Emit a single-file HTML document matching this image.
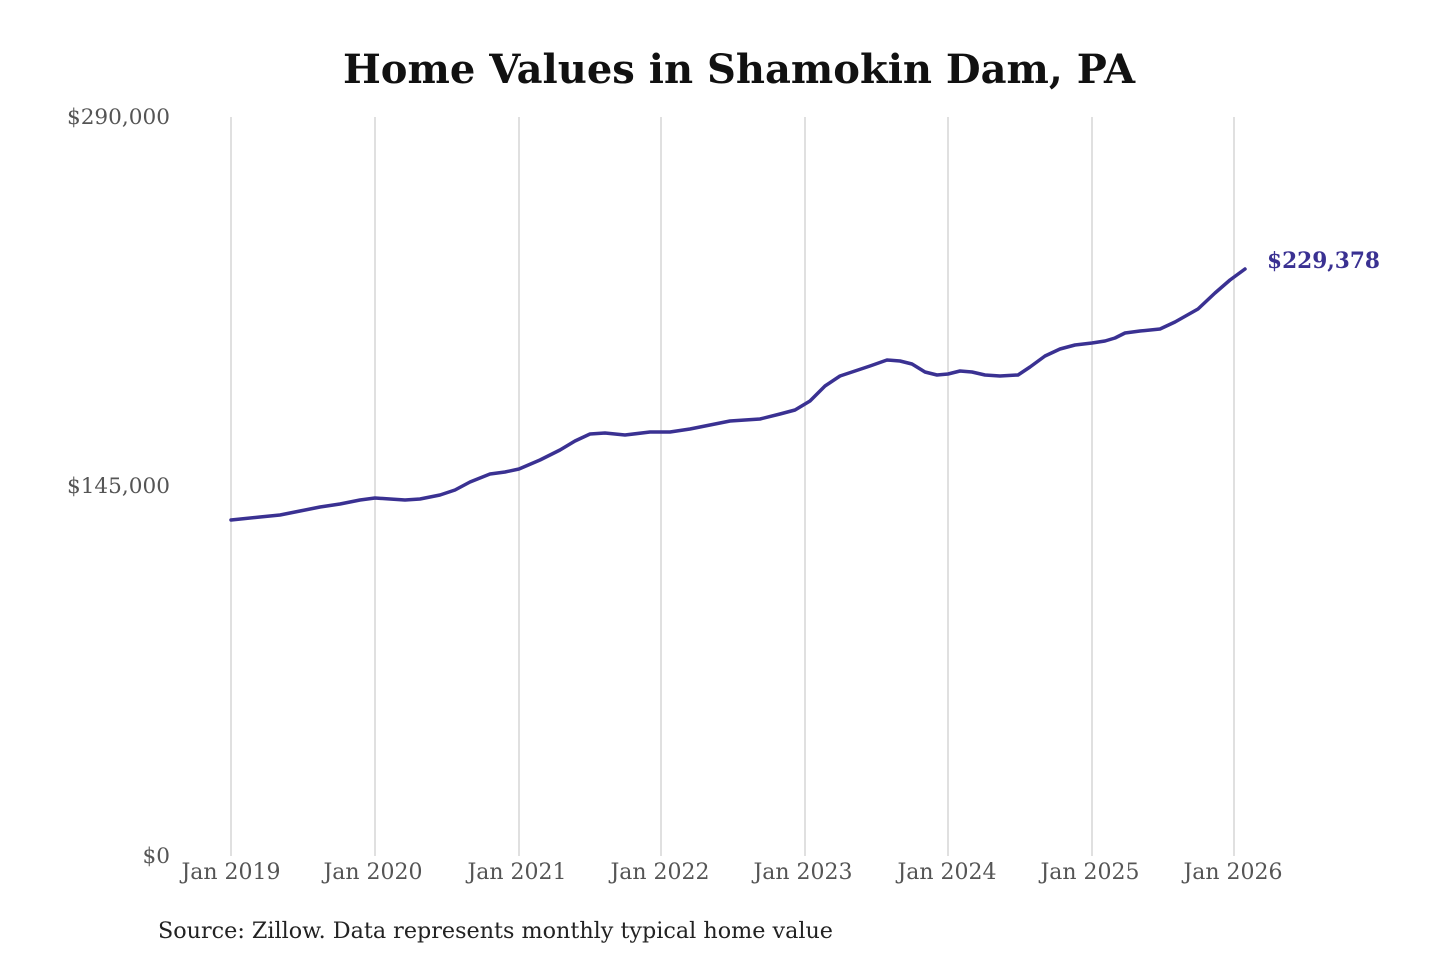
<!DOCTYPE html>
<html><head><meta charset="utf-8"><style>
body{margin:0;background:#fff;}
svg{display:block;font-family:"DejaVu Serif","Liberation Serif",serif;}
</style></head><body>
<svg width="1440" height="960" viewBox="0 0 1440 960" xmlns="http://www.w3.org/2000/svg">
<rect width="1440" height="960" fill="#fff"/>
<text x="739" y="83" text-anchor="middle" font-size="40" font-weight="bold" fill="#111" textLength="792" lengthAdjust="spacingAndGlyphs">Home Values in Shamokin Dam, PA</text>
<g stroke="#cccccc" stroke-width="1.2">
<line x1="231" y1="117" x2="231" y2="856"/><line x1="375" y1="117" x2="375" y2="856"/>
<line x1="519" y1="117" x2="519" y2="856"/><line x1="661" y1="117" x2="661" y2="856"/>
<line x1="805" y1="117" x2="805" y2="856"/><line x1="948" y1="117" x2="948" y2="856"/>
<line x1="1092" y1="117" x2="1092" y2="856"/><line x1="1234" y1="117" x2="1234" y2="856"/>
</g>
<g font-size="21.6" fill="#555" text-anchor="end">
<text x="170" y="124">$290,000</text>
<text x="170" y="493">$145,000</text>
<text x="170" y="863">$0</text>
</g>
<g font-size="22" fill="#555" text-anchor="middle">
<text x="231" y="879">Jan 2019</text><text x="373" y="879">Jan 2020</text>
<text x="517" y="879">Jan 2021</text><text x="660" y="879">Jan 2022</text>
<text x="803" y="879">Jan 2023</text><text x="947" y="879">Jan 2024</text>
<text x="1090" y="879">Jan 2025</text><text x="1233" y="879">Jan 2026</text>
</g>
<polyline fill="none" stroke="#3a3192" stroke-width="3.5" stroke-linejoin="round" stroke-linecap="round" points="231,520 260,517 280,515 300,511 320,507 340,504 360,500 375,498 390,499 405,500 420,499 440,495 455,490 470,482 490,474 505,472 519,469 540,460 560,450 575,441 590,434 605,433 625,435 650,432 670,432 690,429 710,425 730,421 745,420 760,419 780,414 795,410 810,401 825,386 840,376 855,371 870,366 887,360 900,361 912,364 925,372 937,375 948,374 960,371 972,372 985,375 1000,376 1018,375 1030,367 1045,356 1060,349 1075,345 1092,343 1105,341 1115,338 1125,333 1140,331 1160,329 1175,322 1198,309 1215,293 1230,280 1245,269"/>
<text x="1267" y="268" font-size="22" font-weight="bold" fill="#3a3192" textLength="113" lengthAdjust="spacingAndGlyphs">$229,378</text>
<text x="158" y="938" font-size="22.3" fill="#222" textLength="675" lengthAdjust="spacingAndGlyphs">Source: Zillow. Data represents monthly typical home value</text>
</svg>
</body></html>
